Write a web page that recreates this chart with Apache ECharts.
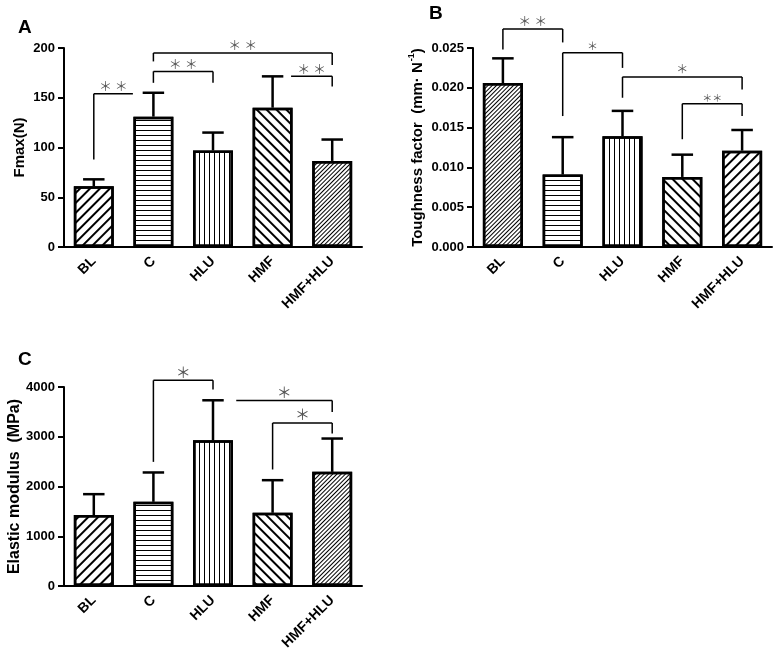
<!DOCTYPE html>
<html><head><meta charset="utf-8">
<script src="https://cdn.jsdelivr.net/npm/echarts@6/dist/echarts.min.js"></script>
<style>html,body{margin:0;padding:0;background:#fff}#c{width:776px;height:661px}</style>
</head><body><div id="c"></div>
<script>
// ---------------- DATA ----------------
const categories = ['BL', 'C', 'HLU', 'HMF', 'HMF+HLU'];

// Panel A: Fmax(N)
const fmaxMean   = [61, 131, 97, 140, 86.5];
const fmaxErrTop = [68, 155, 115, 171.5, 108];
const fmaxTicks  = [0, 50, 100, 150, 200];
// brackets: [fromCategory, toCategory, lineValue, leftEndValue, rightEndValue]
const fmaxBrackets = [
  [0, 0.656, 154, 88, null],
  [1, 2, 176.5, 165, 165],
  [1, 4, 195, 186.5, 183],
  [3.31, 4, 171.5, null, 161.4]
];
const fmaxBracketLabels = ['＊ ＊', '＊ ＊', '＊ ＊', '＊ ＊'];

// Panel B: Toughness factor
const toughMean   = [0.0206, 0.0091, 0.0139, 0.0088, 0.0121];
const toughErrTop = [0.0237, 0.0138, 0.0171, 0.0116, 0.0147];
const toughTicks  = [0, 0.005, 0.010, 0.015, 0.020, 0.025];
const toughTickLabels = ['0.000', '0.005', '0.010', '0.015', '0.020', '0.025'];
const toughBrackets = [
  [0, 1, 0.02739, 0.0248, 0.0257],
  [1, 2, 0.0244, 0.01645, 0.0225],
  [2, 4, 0.02137, 0.01875, 0.0198],
  [3, 4, 0.0180, 0.01354, 0.01645]
];
const toughBracketLabels = ['＊ ＊', '＊', '＊', '＊＊'];

// Panel C: Elastic modulus
const elasticMean   = [1425, 1692, 2930, 1471, 2294];
const elasticErrTop = [1846, 2282, 3733, 2127, 2964];
const elasticTicks  = [0, 1000, 2000, 3000, 4000];
const elasticBrackets = [
  [1, 2, 4134, 2495, 3948],
  [2.39, 4, 3727, null, 3498],
  [3, 4, 3277, 2342, 3064]
];
const elasticBracketLabels = ['＊', '＊', '＊'];

// ---------------- STYLE ----------------
const FONT = 'Liberation Sans, Arial, sans-serif';
const STAR_FONT = '"Noto Sans CJK SC", sans-serif';
const HATCH = {
  diag:  { symbol: 'rect', symbolSize: 1, dashArrayX: [1, 0], dashArrayY: [2, 5], rotation: -Math.PI / 4, color: '#000' },
  back:  { symbol: 'rect', symbolSize: 1, dashArrayX: [1, 0], dashArrayY: [2, 5], rotation: Math.PI / 4, color: '#000' },
  horiz: { symbol: 'rect', symbolSize: 1, dashArrayX: [1, 0], dashArrayY: [1, 4], rotation: 0, color: '#000' },
  vert:  { symbol: 'rect', symbolSize: 1, dashArrayX: [1, 0], dashArrayY: [1, 4], rotation: Math.PI / 2, color: '#000' },
  fine:  { symbol: 'rect', symbolSize: 1, dashArrayX: [1, 0], dashArrayY: [1, 2], rotation: -Math.PI / 4, color: '#000' }
};
const panelHatch = [
  ['diag', 'horiz', 'vert', 'back', 'fine'],
  ['fine', 'horiz', 'vert', 'back', 'diag'],
  ['diag', 'horiz', 'vert', 'back', 'fine']
];
const starSizes = [[13, 13, 13, 13], [13, 11, 12, 10], [15, 15, 15]];

const grids = [
  { left: 64, top: 48, width: 298, height: 199 },
  { left: 473, top: 48, width: 299, height: 199 },
  { left: 64, top: 387, width: 298, height: 199 }
];

const panels = [
  { mean: fmaxMean, top: fmaxErrTop, ticks: fmaxTicks, labels: null, br: fmaxBrackets, brl: fmaxBracketLabels,
    name: 'Fmax(N)', nameGap: 37, nameSize: 15 },
  { mean: toughMean, top: toughErrTop, ticks: toughTicks, labels: toughTickLabels, br: toughBrackets, brl: toughBracketLabels,
    name: '{t|Toughness factor  (mm· N}{s|-1}{t|)}', nameGap: 48, nameSize: 15 },
  { mean: elasticMean, top: elasticErrTop, ticks: elasticTicks, labels: null, br: elasticBrackets, brl: elasticBracketLabels,
    name: 'Elastic modulus  (MPa)', nameGap: 37, nameSize: 16 }
];

function catX(api, x, y) {
  const i = Math.floor(x);
  const f = x - i;
  const p = api.coord([i, y]);
  return [p[0] + f * api.size([1, 0])[0], p[1]];
}

const xAxis = [], yAxis = [], series = [];
panels.forEach((p, k) => {
  xAxis.push({
    type: 'category', gridIndex: k, data: categories, boundaryGap: true,
    axisLine: { lineStyle: { color: '#000', width: 2 } },
    axisTick: { alignWithLabel: true, length: 5, lineStyle: { color: '#000', width: 2 } },
    axisLabel: { rotate: 45, margin: 12, color: '#000', fontWeight: 'bold', fontSize: 14, fontFamily: FONT, interval: 0 }
  });
  const t = p.ticks;
  yAxis.push({
    type: 'value', gridIndex: k, min: t[0], max: t[t.length - 1], interval: t[1] - t[0],
    splitLine: { show: false },
    axisLine: { show: true, lineStyle: { color: '#000', width: 2 } },
    axisTick: { show: true, length: 6, lineStyle: { color: '#000', width: 2 } },
    axisLabel: {
      color: '#000', fontWeight: 'bold', fontSize: 13, fontFamily: FONT, margin: 9,
      formatter: p.labels ? ((v, idx) => p.labels[idx]) : (v => String(v))
    },
    name: p.name, nameLocation: 'middle', nameRotate: 90, nameGap: p.nameGap,
    nameTextStyle: {
      color: '#000', fontWeight: 'bold', fontSize: p.nameSize, fontFamily: FONT,
      rich: {
        t: { fontSize: p.nameSize, fontWeight: 'bold', fontFamily: FONT, color: '#000', lineHeight: 18, verticalAlign: 'bottom' },
        s: { fontSize: 9, fontWeight: 'bold', fontFamily: FONT, color: '#000', lineHeight: 18, verticalAlign: 'top', padding: [0, 0, 0, 1] }
      }
    }
  });
  series.push({
    type: 'bar', xAxisIndex: k, yAxisIndex: k, barWidth: '67%', z: 2,
    data: p.mean.map((v, i) => ({
      value: v,
      itemStyle: { color: '#fff', borderColor: '#000', borderWidth: 2.5, decal: HATCH[panelHatch[k][i]] }
    }))
  });
  series.push({
    type: 'custom', xAxisIndex: k, yAxisIndex: k, z: 3, clip: false,
    data: p.mean.map((v, i) => [i, v, p.top[i]]),
    encode: { x: 0, y: [1, 2] },
    renderItem: (params, api) => {
      const base = api.coord([api.value(0), api.value(1)]);
      const top = api.coord([api.value(0), api.value(2)]);
      const cap = api.size([1, 0])[0] * 0.36;
      const st = { stroke: '#000', lineWidth: 2.5 };
      return { type: 'group', children: [
        { type: 'line', shape: { x1: base[0], y1: base[1], x2: top[0], y2: top[1] }, style: st },
        { type: 'line', shape: { x1: top[0] - cap / 2, y1: top[1], x2: top[0] + cap / 2, y2: top[1] }, style: st }
      ]};
    }
  });
  series.push({
    type: 'custom', xAxisIndex: k, yAxisIndex: k, z: 4, clip: false,
    data: p.br.map(b => [Math.round(b[0]), b[2]]),
    renderItem: (params, api) => {
      const b = p.br[params.dataIndex];
      const a = catX(api, b[0], b[2]);
      const c = catX(api, b[1], b[2]);
      const st = { stroke: '#000', lineWidth: 1.5 };
      const ch = [{ type: 'line', shape: { x1: a[0], y1: a[1], x2: c[0], y2: c[1] }, style: st }];
      if (b[3] != null) {
        const d = catX(api, b[0], b[3]);
        ch.push({ type: 'line', shape: { x1: a[0], y1: a[1], x2: d[0], y2: d[1] }, style: st });
      }
      if (b[4] != null) {
        const e = catX(api, b[1], b[4]);
        ch.push({ type: 'line', shape: { x1: c[0], y1: c[1], x2: e[0], y2: e[1] }, style: st });
      }
      ch.push({ type: 'text', style: {
        text: p.brl[params.dataIndex], x: (a[0] + c[0]) / 2, y: a[1] - 1,
        align: 'center', verticalAlign: 'bottom', fill: '#555',
        font: starSizes[k][params.dataIndex] + 'px ' + STAR_FONT
      }});
      return { type: 'group', children: ch };
    }
  });
});

const titleStyle = { fontSize: 19, fontWeight: 'bold', fontFamily: FONT, color: '#000' };
const option = {
  animation: false,
  backgroundColor: '#fff',
  title: [
    { text: 'A', left: 18, top: 18, padding: 0, textStyle: titleStyle },
    { text: 'B', left: 429, top: 4, padding: 0, textStyle: titleStyle },
    { text: 'C', left: 18, top: 350, padding: 0, textStyle: titleStyle }
  ],
  grid: grids,
  xAxis: xAxis,
  yAxis: yAxis,
  series: series
};
const chart = echarts.init(document.getElementById('c'), null, { renderer: 'canvas' });
chart.setOption(option);
</script>
</body></html>
